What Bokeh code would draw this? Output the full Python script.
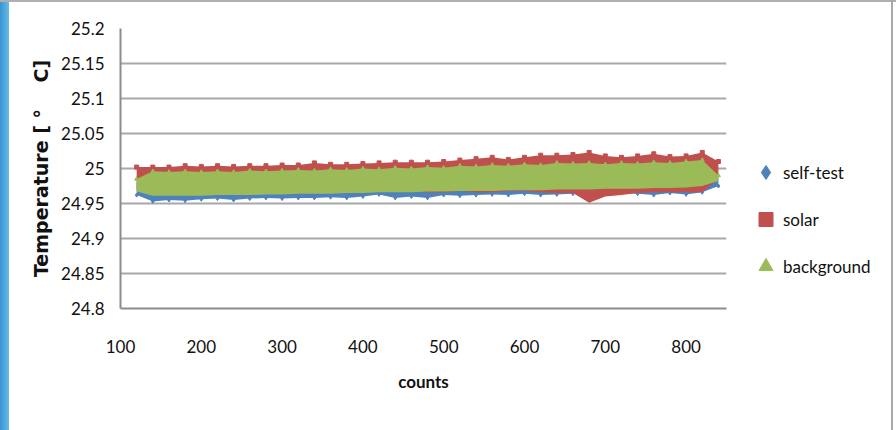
from bokeh.plotting import figure
from bokeh.models import (Range1d, FixedTicker, Legend, LegendItem, Div, ColumnDataSource)
from bokeh.layouts import row, column
from bokeh.embed import file_html
from bokeh.resources import INLINE

# ---- data (envelope of the dense point clouds) ----
counts = [120, 140, 160, 180, 200, 220, 240, 260, 280, 300, 320, 340, 360, 380, 400,
          420, 440, 460, 480, 500, 520, 540, 560, 580, 600, 620, 640, 660, 680, 700,
          720, 740, 760, 780, 800, 820, 840]

self_test_hi = [24.980, 24.990, 24.990, 24.991, 24.990, 24.991, 24.990, 24.992, 24.991, 24.992,
                24.993, 24.992, 24.994, 24.993, 24.995, 24.994, 24.996, 24.995, 24.997, 24.996,
                24.999, 24.998, 25.000, 24.999, 25.001, 25.000, 25.003, 25.002, 25.003, 25.001,
                25.003, 25.002, 25.004, 25.003, 25.005, 25.006, 24.985]
self_test_lo = [24.962, 24.953, 24.955, 24.954, 24.956, 24.957, 24.955, 24.957, 24.958, 24.957,
                24.958, 24.958, 24.959, 24.958, 24.960, 24.963, 24.958, 24.960, 24.958, 24.962,
                24.961, 24.962, 24.963, 24.962, 24.964, 24.962, 24.963, 24.964, 24.963, 24.964,
                24.965, 24.964, 24.962, 24.965, 24.963, 24.966, 24.975]

solar_hi = [25.002, 25.002, 25.002, 25.004, 25.003, 25.004, 25.003, 25.004, 25.004, 25.005,
            25.005, 25.008, 25.006, 25.006, 25.007, 25.008, 25.009, 25.009, 25.009, 25.010,
            25.012, 25.014, 25.016, 25.013, 25.016, 25.019, 25.019, 25.020, 25.023, 25.018,
            25.016, 25.018, 25.021, 25.017, 25.018, 25.023, 25.010]
solar_lo = [24.970, 24.966, 24.966, 24.966, 24.966, 24.966, 24.966, 24.966, 24.966, 24.966,
            24.966, 24.965, 24.968, 24.968, 24.968, 24.968, 24.968, 24.968, 24.966, 24.966,
            24.968, 24.966, 24.966, 24.968, 24.968, 24.966, 24.965, 24.965, 24.951, 24.960,
            24.962, 24.965, 24.966, 24.966, 24.966, 24.966, 24.985]

background_hi = [24.985, 24.996, 24.995, 24.996, 24.995, 24.996, 24.995, 24.997, 24.996, 24.997,
                 24.998, 24.997, 24.999, 24.998, 25.000, 24.999, 25.001, 25.000, 25.002, 25.001,
                 25.004, 25.003, 25.005, 25.004, 25.006, 25.005, 25.008, 25.007, 25.008, 25.006,
                 25.008, 25.007, 25.009, 25.008, 25.010, 25.012, 24.990]
background_lo = [24.967, 24.961, 24.961, 24.961, 24.961, 24.962, 24.962, 24.962, 24.963, 24.963,
                 24.964, 24.964, 24.964, 24.965, 24.965, 24.966, 24.966, 24.966, 24.967, 24.967,
                 24.968, 24.968, 24.968, 24.969, 24.969, 24.969, 24.970, 24.970, 24.970, 24.971,
                 24.971, 24.971, 24.972, 24.972, 24.973, 24.975, 24.982]

y_ticks = [24.8, 24.85, 24.9, 24.95, 25.0, 25.05, 25.1, 25.15, 25.2]
y_tick_labels = ["24.8", "24.85", "24.9", "24.95", "25", "25.05", "25.1", "25.15", "25.2"]
x_ticks = [100, 200, 300, 400, 500, 600, 700, 800]

series_names = ["self-test", "solar", "background"]
colors = ["#4F81BD", "#C0504D", "#9BBB59"]
markers = ["diamond", "square", "triangle"]

FONT = "Lato"

src = ColumnDataSource(dict(x=counts,
                            s_hi=self_test_hi, s_lo=self_test_lo,
                            r_hi=solar_hi, r_lo=solar_lo,
                            b_hi=background_hi, b_lo=background_lo))

p = figure(frame_width=606, frame_height=280,
           output_backend="svg", toolbar_location=None,
           x_range=Range1d(100, 850), y_range=Range1d(24.8, 25.2),
           min_border_left=111, min_border_right=10, min_border_top=26, min_border_bottom=122,
           background_fill_color="white", border_fill_color="white")
p.outline_line_color = None

# bands and edge markers, drawn in Excel's series order
renderers = []
for (hi, lo, edge), col, mk in zip([("s_hi", "s_lo", "s_lo"), ("r_hi", "r_lo", "r_hi"),
                                    ("b_hi", "b_lo", "b_hi")], colors, markers):
    p.varea(x="x", y1=lo, y2=hi, source=src, fill_color=col, fill_alpha=1.0)
    r = p.scatter(x="x", y=edge, source=src, marker=mk, size=4, fill_color=col, line_color=col)
    renderers.append(r)

# axes
p.xgrid.grid_line_color = None
p.ygrid.grid_line_color = "#A8A8A8"
p.ygrid.grid_line_width = 2
p.ygrid.ticker = FixedTicker(ticks=y_ticks)

p.xaxis.ticker = FixedTicker(ticks=x_ticks)
p.yaxis.ticker = FixedTicker(ticks=y_ticks)
p.yaxis.major_label_overrides = {t: l for t, l in zip(y_ticks, y_tick_labels)}

for ax in (p.xaxis[0], p.yaxis[0]):
    ax.axis_line_color = "#8C8C8C"
    ax.axis_line_width = 2
    ax.major_tick_line_color = None
    ax.minor_tick_line_color = None
    ax.major_tick_in = 0
    ax.major_tick_out = 0
    ax.major_label_text_font = FONT
    ax.major_label_text_font_size = "17px"
    ax.major_label_text_color = "#111111"

p.xaxis.major_label_standoff = 31
p.yaxis.major_label_standoff = 16

p.xaxis.axis_label = "counts"
p.xaxis.axis_label_text_font = FONT
p.xaxis.axis_label_text_font_size = "17px"
p.xaxis.axis_label_text_font_style = "bold"
p.xaxis.axis_label_standoff = 15
p.xaxis.axis_label_text_color = "#111111"

p.yaxis.axis_label = "Temperature [ °\u00a0\u00a0\u00a0 C]"
p.yaxis.axis_label_text_font = "DejaVu Sans"
p.yaxis.axis_label_text_font_size = "19px"
p.yaxis.axis_label_text_font_style = "bold"
p.yaxis.axis_label_standoff = 6
p.yaxis.axis_label_text_color = "#111111"

legend = Legend(items=[LegendItem(label=n, renderers=[r]) for n, r in zip(series_names, renderers)],
                location="bottom_left", orientation="vertical",
                glyph_width=35, glyph_height=40, label_height=40, spacing=7,
                label_standoff=0, padding=0, margin=22,
                border_line_color=None, background_fill_alpha=0,
                label_text_font=FONT, label_text_font_size="17px", label_text_color="#111111")
p.add_layout(legend, "right")

top_line = Div(width=896, height=2, margin=(0, 0, 0, 0), styles={"background-color": "#B0B0B0"})
strip = Div(width=9, height=428, margin=(0, 0, 0, 0),
            styles={"background": "linear-gradient(to right, #3C93D2, #63BCE7)"})
right_line = Div(width=2, height=2, margin=(0, 0, 0, 0),
                 stylesheets=[":host { position: fixed !important; left: 891px !important; "
                              "top: 0px !important; width: 2px !important; height: 430px !important; "
                              "background: #A8A8A8 !important; z-index: 100 !important; }"])

layout = column(top_line, row(strip, p, spacing=0), right_line, spacing=0)

open("out.html", "w").write(file_html(layout, INLINE))
